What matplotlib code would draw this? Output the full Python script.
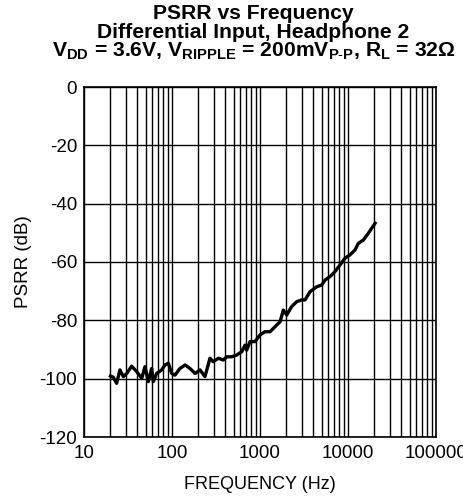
import matplotlib
matplotlib.use("Agg")
import matplotlib.pyplot as plt
from matplotlib.ticker import FixedLocator, LogLocator, NullFormatter

plt.rcParams['font.family'] = ['Liberation Sans', 'DejaVu Sans']
plt.rcParams['mathtext.fontset'] = 'custom'
plt.rcParams['mathtext.rm'] = 'Liberation Sans'
plt.rcParams['mathtext.bf'] = 'Liberation Sans:bold'
plt.rcParams['mathtext.it'] = 'Liberation Sans:italic'

# Data
freq_hz = [20, 21.5, 23.5, 25.6, 28.0, 30.6, 34.8, 39.7, 45.3, 49.3, 53.8, 58.8,
           61.3, 67.0, 76.4, 83.2, 90.8, 99.3, 108, 123, 141, 160, 183, 208,
           237, 270, 294, 336, 383, 419, 477, 543, 619, 676, 706, 770, 877,
           1000, 1140, 1300, 1480, 1690, 1840, 2010, 2290, 2610, 2980, 3250,
           3700, 4400, 5020, 5480, 6240, 7110, 8110, 9250, 10500, 12000,
           13100, 14900, 17000, 20300]
psrr_db = [-99.1, -99.5, -101.6, -97.0, -99.3, -98.2, -95.7, -97.6, -99.9, -95.9,
           -101.0, -96.5, -101.0, -98.2, -97.0, -95.3, -94.7, -98.2, -98.8,
           -96.5, -95.3, -96.5, -98.2, -97.0, -99.3, -93.0, -94.2, -93.0,
           -93.6, -92.5, -92.5, -91.9, -90.8, -88.5, -90.2, -87.3, -87.3,
           -85.0, -83.9, -83.9, -82.2, -80.5, -76.5, -78.2, -75.3, -73.6,
           -73.0, -73.0, -70.2, -68.5, -67.9, -66.2, -65.0, -63.3, -61.0,
           -58.7, -57.6, -55.9, -53.6, -52.5, -50.2, -46.7]

x_ticks = [10, 100, 1000, 10000, 100000]
x_tick_labels = ['10', '100', '1000', '10000', '100000']
y_ticks = [0, -20, -40, -60, -80, -100, -120]
y_tick_labels = ['0', '-20', '-40', '-60', '-80', '-100', '-120']

fig = plt.figure(figsize=(4.63, 4.97), dpi=100)
ax = fig.add_axes([84/463, 1-437/497, 352/463, 350/497])

ax.set_xscale('log')
ax.set_xlim(10, 100000)
ax.set_ylim(-120, 0)

ax.xaxis.set_major_locator(FixedLocator(x_ticks))
ax.set_xticklabels(x_tick_labels)
ax.xaxis.set_minor_locator(LogLocator(base=10, subs=range(2, 10), numticks=20))
ax.xaxis.set_minor_formatter(NullFormatter())
ax.set_yticks(y_ticks)
ax.set_yticklabels(y_tick_labels)

ax.grid(True, which='both', axis='x', color='black', linewidth=1.0)
ax.grid(True, which='major', axis='y', color='black', linewidth=1.0)
ax.set_axisbelow(True)

ax.tick_params(which='both', length=0, labelsize=13.5)
ax.tick_params(axis='x', pad=6)
ax.tick_params(axis='y', pad=5)

for s in ax.spines.values():
    s.set_linewidth(1.2)

ax.plot(freq_hz, psrr_db, color='black', linewidth=2.4, solid_joinstyle='round')

ax.set_xlabel('FREQUENCY (Hz)', fontsize=13)
ax.xaxis.set_label_coords(0.5, -0.112)
ax.set_ylabel('PSRR (dB)', fontsize=13.5)
ax.yaxis.set_label_coords(-0.148, 0.5)

cx = 253.5 / 463
fs_t = 15.2
fig.text(cx, 1-19/497, 'PSRR vs Frequency', ha='center', va='baseline',
         fontsize=fs_t, fontweight='bold')
fig.text(cx, 1-38/497, 'Differential Input, Headphone 2', ha='center', va='baseline',
         fontsize=fs_t, fontweight='bold')
fig.text(cx, 1-57/497,
         r'V$_{\mathbf{DD}}$ = 3.6V, V$_{\mathbf{RIPPLE}}$ = 200mV$_{\mathbf{P\text{-}P}}$, R$_{\mathbf{L}}$ = 32Ω',
         ha='center', va='baseline', fontsize=fs_t, fontweight='bold')

fig.savefig('out.png', dpi=100)
